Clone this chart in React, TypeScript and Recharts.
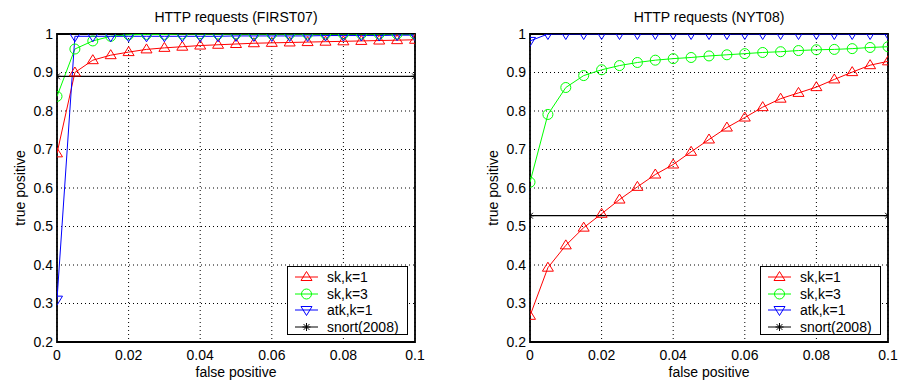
import React from 'react';
import { LineChart, Line, XAxis, YAxis, CartesianGrid, ReferenceArea } from 'recharts';

const FONT = '"Liberation Sans", Arial, Helvetica, sans-serif';

// false positive rate, shared x values for both panels
const fpRates = [0, 0.005, 0.01, 0.015, 0.02, 0.025, 0.03, 0.035, 0.04, 0.045, 0.05, 0.055, 0.06, 0.065, 0.07, 0.075, 0.08, 0.085, 0.09, 0.095, 0.1];

// FIRST07
const first07Sk1 = [0.69, 0.9, 0.932, 0.945, 0.953, 0.96, 0.964, 0.967, 0.97, 0.972, 0.974, 0.976, 0.977, 0.978, 0.979, 0.98, 0.981, 0.982, 0.983, 0.984, 0.985];
const first07Sk3 = [0.838, 0.961, 0.982, 0.994, 0.998, 0.999, 0.999, 1, 1, 1, 1, 1, 1, 1, 1, 1, 1, 1, 1, 1, 1];
const first07Atk = [0.31, 0.994, 0.994, 0.994, 0.994, 0.994, 0.994, 0.994, 0.994, 0.994, 0.995, 0.995, 0.995, 0.995, 0.995, 0.996, 0.996, 0.996, 0.996, 0.997, 0.997];
const first07Snort = 0.89;

// NYT08
const nyt08Sk1 = [0.268, 0.393, 0.451, 0.497, 0.533, 0.57, 0.603, 0.635, 0.661, 0.694, 0.726, 0.757, 0.783, 0.81, 0.832, 0.847, 0.862, 0.882, 0.901, 0.919, 0.929];
const nyt08Sk3 = [0.615, 0.791, 0.861, 0.892, 0.907, 0.918, 0.926, 0.932, 0.936, 0.939, 0.943, 0.946, 0.949, 0.952, 0.954, 0.957, 0.959, 0.96, 0.962, 0.965, 0.967];
const nyt08Atk = [0.982, 1, 1, 1, 1, 1, 1, 1, 1, 1, 1, 1, 1, 1, 1, 1, 1, 1, 1, 1, 1];
const nyt08Snort = 0.528;

const xTicks = [0, 0.02, 0.04, 0.06, 0.08, 0.1];
const yTicks = [0.2, 0.3, 0.4, 0.5, 0.6, 0.7, 0.8, 0.9, 1];

const series = [
  { key: 'sk1', name: 'sk,k=1', color: '#ff0000', shape: 'up' },
  { key: 'sk3', name: 'sk,k=3', color: '#00ff00', shape: 'circle' },
  { key: 'atk', name: 'atk,k=1', color: '#0000ff', shape: 'down' },
  { key: 'snort', name: 'snort(2008)', color: '#000000', shape: 'star' },
];

function Marker({ shape, color, cx, cy }: any) {
  if (cx == null || cy == null) return null;
  if (shape === 'up') {
    return <path d={`M${cx},${cy - 5.5}L${cx + 5.5},${cy + 3.5}L${cx - 5.5},${cy + 3.5}Z`} fill="none" stroke={color} strokeWidth={1} />;
  }
  if (shape === 'down') {
    return <path d={`M${cx},${cy + 5.5}L${cx + 5.5},${cy - 3.5}L${cx - 5.5},${cy - 3.5}Z`} fill="none" stroke={color} strokeWidth={1} />;
  }
  if (shape === 'circle') {
    return <circle cx={cx} cy={cy} r={5} fill="none" stroke={color} strokeWidth={1} />;
  }
  const s = 4;
  const d = 2.9;
  return (
    <g stroke={color} strokeWidth={1}>
      <line x1={cx - s} y1={cy} x2={cx + s} y2={cy} />
      <line x1={cx} y1={cy - s} x2={cx} y2={cy + s} />
      <line x1={cx - d} y1={cy - d} x2={cx + d} y2={cy + d} />
      <line x1={cx - d} y1={cy + d} x2={cx + d} y2={cy - d} />
    </g>
  );
}

function LegendBox({ left, width }: { left: number; width: number }) {
  return (
    <div
      style={{
        position: 'absolute',
        left,
        top: 266,
        width,
        height: 69,
        boxSizing: 'border-box',
        border: '1px solid #000',
        background: '#fff',
        fontSize: 14,
        fontFamily: FONT,
      }}
    >
      {series.map((s, i) => (
        <div
          key={s.key}
          style={{ position: 'absolute', left: 0, top: 1.5 + i * 16.7, height: 16.7, display: 'flex', alignItems: 'center' }}
        >
          <svg width={39} height={16} style={{ display: 'block' }}>
            <line x1={7} x2={30} y1={8} y2={8} stroke={s.color} strokeWidth={1} />
            <Marker shape={s.shape} color={s.color} cx={18.5} cy={8} />
          </svg>
          <span style={{ lineHeight: '16px' }}>{s.name}</span>
        </div>
      ))}
    </div>
  );
}

interface PanelProps {
  title: string;
  left: number;
  width: number;
  axisWidth: number;
  rightMargin: number;
  labelOffset: number;
  sk1: number[];
  sk3: number[];
  atk: number[];
  snort: number;
}

function Panel({ title, left, width, axisWidth, rightMargin, labelOffset, sk1, sk3, atk, snort }: PanelProps) {
  const rows = fpRates.map((fp, i) => ({ fp, sk1: sk1[i], sk3: sk3[i], atk: atk[i] }));
  const snortRows = [
    { fp: fpRates[0], snort },
    { fp: fpRates[fpRates.length - 1], snort },
  ];
  const plotLeft = axisWidth;
  const plotRight = width - rightMargin;
  const tick = { fill: '#000', fontSize: 14, fontFamily: FONT };

  return (
    <div style={{ position: 'absolute', left, top: 0, width, height: 381 }}>
      <div
        style={{
          position: 'absolute',
          left: plotLeft,
          width: plotRight - plotLeft,
          top: 8,
          textAlign: 'center',
          fontSize: 14,
          lineHeight: '18px',
          fontFamily: FONT,
        }}
      >
        {title}
      </div>
      <LineChart width={width} height={381} data={rows} margin={{ top: 34, right: rightMargin, left: 0, bottom: 0 }}>
        <CartesianGrid stroke="#000" strokeDasharray="1 3" strokeWidth={1} />
        <XAxis
          dataKey="fp"
          type="number"
          domain={[0, 0.1]}
          ticks={xTicks}
          height={39}
          tickLine={false}
          tickSize={0}
          tickMargin={8}
          axisLine={false}
          tick={tick}
          allowDataOverflow
          label={{ value: 'false positive', position: 'insideBottom', offset: 4, fill: '#000', fontSize: 14 }}
        />
        <YAxis
          type="number"
          domain={[0.2, 1]}
          ticks={yTicks}
          width={axisWidth}
          tickLine={false}
          tickSize={0}
          tickMargin={4}
          axisLine={false}
          tick={tick}
          allowDataOverflow
          label={{
            value: 'true positive',
            angle: -90,
            position: 'insideLeft',
            offset: labelOffset,
            fill: '#000',
            fontSize: 14,
            style: { textAnchor: 'middle' },
          }}
        />
        <ReferenceArea x1={0} x2={0.1} y1={0.2} y2={1} fill="none" stroke="#000" strokeWidth={1.8} fillOpacity={0} />
        {series.slice(0, 3).map((s) => (
          <Line
            key={s.key}
            dataKey={s.key}
            stroke={s.color}
            strokeWidth={1}
            isAnimationActive={false}
            dot={(p: any) => <Marker key={`${s.key}-${p.index}`} shape={s.shape} color={s.color} cx={p.cx} cy={p.cy} />}
            activeDot={false}
          />
        ))}
        <Line
          data={snortRows}
          dataKey="snort"
          stroke="#000"
          strokeWidth={1.2}
          isAnimationActive={false}
          dot={(p: any) => <Marker key={`snort-${p.index}`} shape="star" color="#000" cx={p.cx} cy={p.cy} />}
          activeDot={false}
        />
      </LineChart>
      <LegendBox left={plotRight - 128} width={121} />
    </div>
  );
}

export default function App() {
  return (
    <div style={{ position: 'absolute', left: 0, top: 0, width: 899, height: 381, background: '#fff', fontFamily: FONT }}>
      <Panel
        title="HTTP requests (FIRST07)"
        left={0}
        width={450}
        axisWidth={57}
        rightMargin={35}
        labelOffset={20}
        sk1={first07Sk1}
        sk3={first07Sk3}
        atk={first07Atk}
        snort={first07Snort}
      />
      <Panel
        title="HTTP requests (NYT08)"
        left={450}
        width={449}
        axisWidth={80}
        rightMargin={11}
        labelOffset={43}
        sk1={nyt08Sk1}
        sk3={nyt08Sk3}
        atk={nyt08Atk}
        snort={nyt08Snort}
      />
    </div>
  );
}
